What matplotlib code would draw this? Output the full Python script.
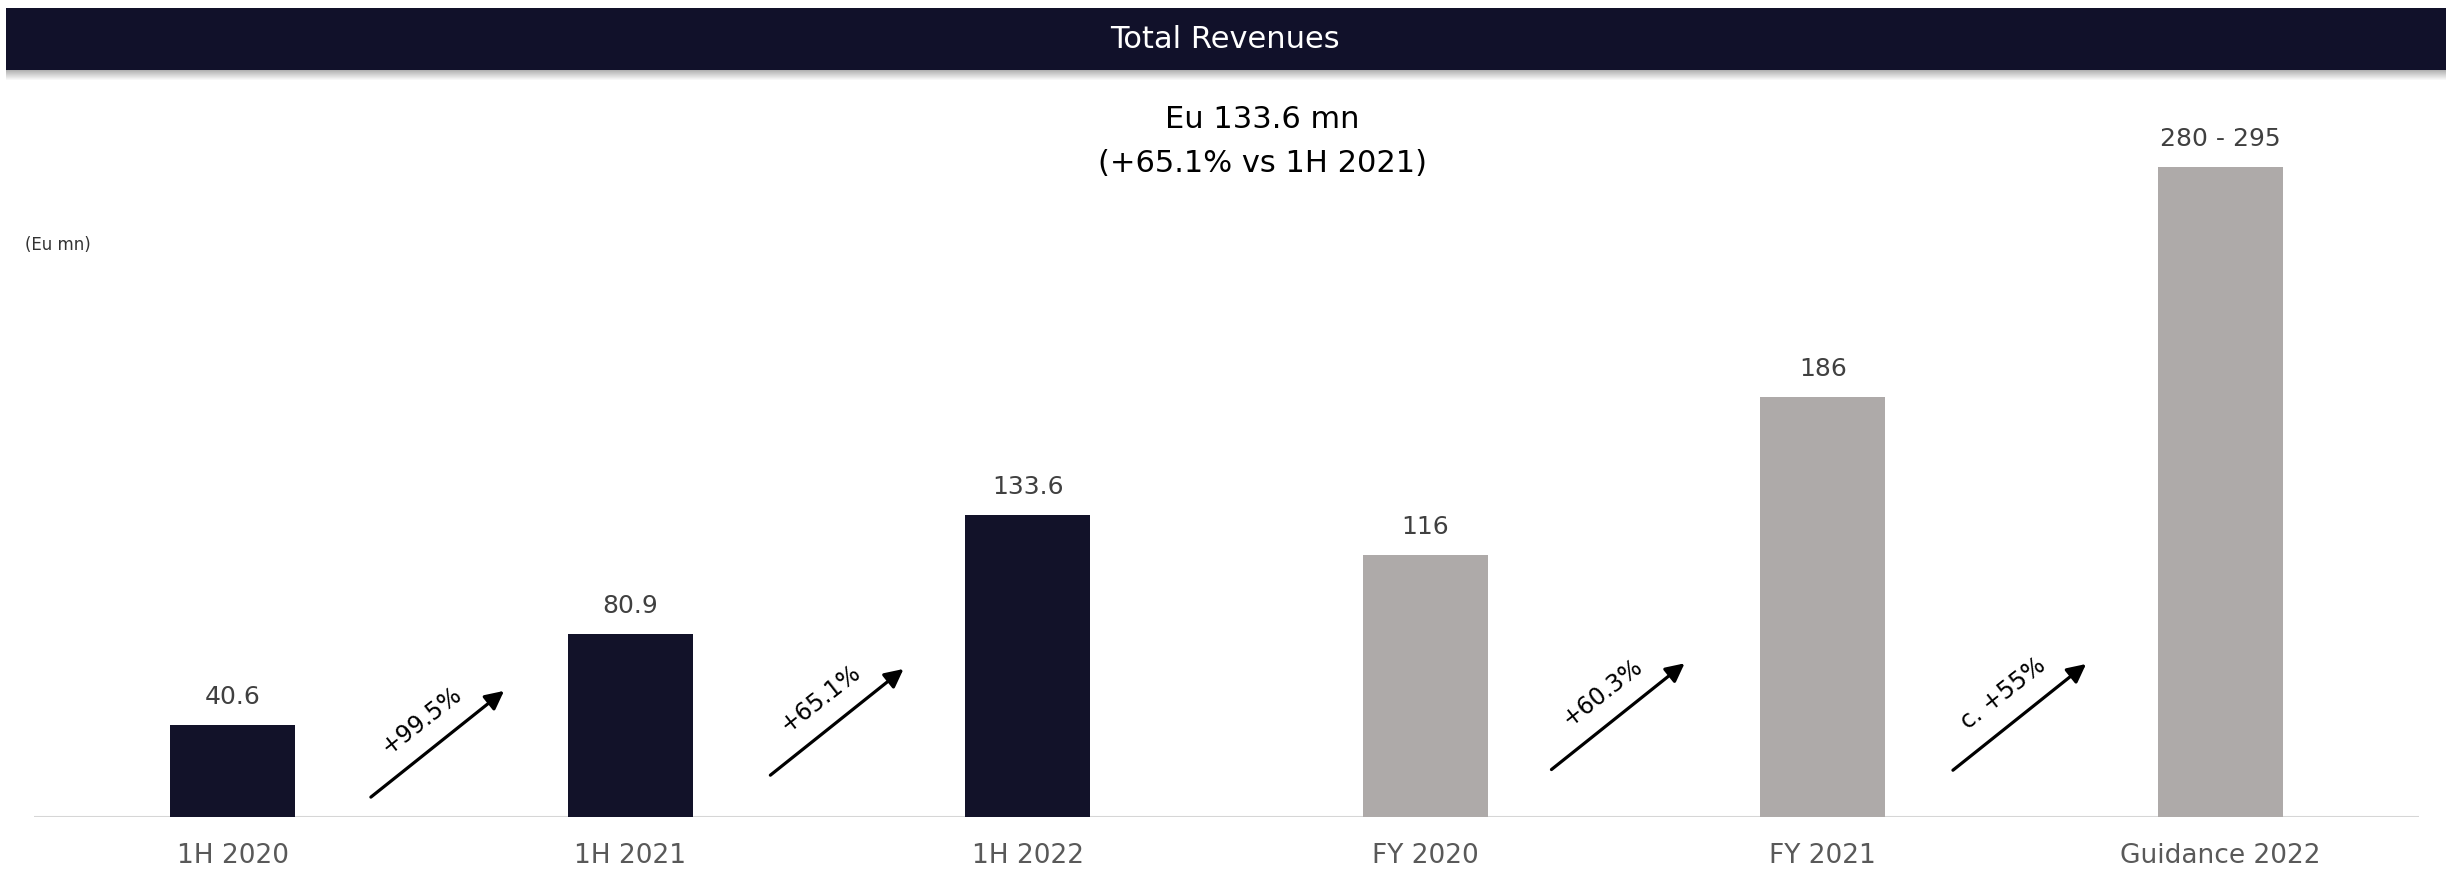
import matplotlib
matplotlib.use("Agg")
import matplotlib.pyplot as plt
from matplotlib.patches import Rectangle

# data
categories = ["1H 2020", "1H 2021", "1H 2022", "FY 2020", "FY 2021", "Guidance 2022"]
revenues = [40.6, 80.9, 133.6, 116, 186, 287.5]
value_labels = ["40.6", "80.9", "133.6", "116", "186", "280 - 295"]
is_half_year = [True, True, True, False, False, False]
growth_pairs = [(0, 1), (1, 2), (3, 4), (4, 5)]
growth_labels = ["+99.5%", "+65.1%", "+60.3%", "c. +55%"]

navy = "#121229"
grey = "#aeaaa9"

plt.rcParams['font.family'] = ['DejaVu Sans']

fig = plt.figure(figsize=(24.5, 8.72), dpi=100)
W, H = 2450, 872

# header band with a soft shadow underneath
for k in range(10):
    fig.patches.append(Rectangle((6 / W, (H - 71 - k) / H), 2440 / W, 1 / H,
                                 transform=fig.transFigure, color="#000000",
                                 alpha=0.30 * (1 - k / 10), lw=0, zorder=0))
fig.patches.append(Rectangle((6 / W, (H - 70) / H), 2440 / W, 62 / H,
                             transform=fig.transFigure, color="#11112a", lw=0, zorder=1))
fig.text(0.5, (H - 39) / H, "Total Revenues", color="white", fontsize=22,
         ha="center", va="center", zorder=2)

# main axes
px_per_unit = 2.26
base_y = 817
ax = fig.add_axes([34 / W, (H - base_y) / H, 2385 / W, 320 * px_per_unit / H])
ax.set_xlim(-0.5, 5.5)
ax.set_ylim(0, 320)
ax.patch.set_alpha(0)

x = list(range(len(categories)))
colors = [navy if h else grey for h in is_half_year]
bars = ax.bar(x, revenues, width=0.315, color=colors, zorder=2)

for xi, v, lab in zip(x, revenues, value_labels):
    ax.annotate(lab, (xi, v), xytext=(0, 20), textcoords="offset points",
                ha="center", va="center", fontsize=18, color="#404040")

ax.axhline(0, color="#d6d6d6", lw=2.2, zorder=1)

for s in ax.spines.values():
    s.set_visible(False)
ax.set_yticks([])
ax.set_xticks(x)
ax.set_xticklabels(categories, fontsize=19, color="#595959")
ax.tick_params(axis="x", length=0, pad=19)

# growth arrows between bars
arrow_mid_y = [32.3, 42.0, 44.5, 44.2]
arrow_shift = [0.015, 0.02, -0.015, -0.005]
half_dx, half_dy = 0.1675, 23.5
for (a, b), lab, my, sh in zip(growth_pairs, growth_labels, arrow_mid_y, arrow_shift):
    mx = (a + b) / 2 + sh
    ax.annotate("", xy=(mx + half_dx, my + half_dy), xytext=(mx - half_dx, my - half_dy),
                arrowprops=dict(arrowstyle="-|>", color="black", lw=2.3,
                                mutation_scale=28, shrinkA=0, shrinkB=0))
    ax.annotate(lab, (mx, my), xytext=(-16, 24), textcoords="offset pixels",
                rotation=38, rotation_mode="anchor", ha="center", va="center",
                fontsize=17, color="black")

# headline and unit note
fig.text(1262 / W, (H - 119) / H, "Eu 133.6 mn", fontsize=22, color="black",
         ha="center", va="center")
fig.text(1262 / W, (H - 164) / H, "(+65.1% vs 1H 2021)", fontsize=22, color="black",
         ha="center", va="center")
fig.text(25 / W, (H - 245) / H, "(Eu mn)", fontsize=12, color="#333333",
         ha="left", va="center")

fig.savefig("out.png", dpi=100)
